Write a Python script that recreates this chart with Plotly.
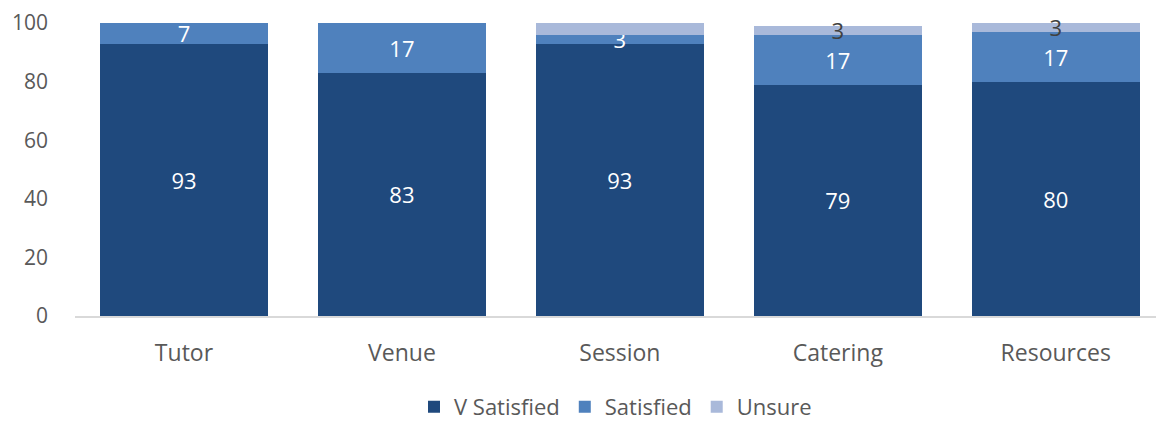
import plotly.graph_objects as go

categories = ["Tutor", "Venue", "Session", "Catering", "Resources"]
v_satisfied = [93, 83, 93, 79, 80]
satisfied = [7, 17, 3, 17, 17]
unsure = [0, 0, 4, 3, 3]
unsure_labels = ["", "", "", "3", "3"]

FONT = "Open Sans"

common = dict(textposition="inside", insidetextanchor="middle",
              textangle=0, constraintext="none", cliponaxis=False)

fig = go.Figure()
fig.add_trace(go.Bar(
    name="V Satisfied", x=categories, y=v_satisfied,
    marker=dict(color="#1F497D", line=dict(width=0)),
    text=[str(v) for v in v_satisfied],
    textfont=dict(color="white", size=22, family=FONT), **common,
))
fig.add_trace(go.Bar(
    name="Satisfied", x=categories, y=satisfied,
    marker=dict(color="#4F81BD", line=dict(width=0)),
    text=[str(v) for v in satisfied],
    textfont=dict(color="white", size=22, family=FONT), **common,
))
fig.add_trace(go.Bar(
    name="Unsure", x=categories, y=unsure,
    marker=dict(color="#A9B9DA", line=dict(width=0)),
    text=unsure_labels,
    textfont=dict(color="#404040", size=22, family=FONT), **common,
))

fig.update_layout(
    barmode="stack",
    bargap=0.23,
    width=1156, height=426,
    margin=dict(l=75, r=0, t=23, b=110),
    paper_bgcolor="white", plot_bgcolor="white",
    font=dict(family=FONT, color="#595959"),
    uniformtext=dict(mode="show", minsize=10),
    showlegend=True,
    legend=dict(
        orientation="h", x=0.5, xanchor="center",
        yref="container", y=0.045, yanchor="middle",
        font=dict(size=22, color="#595959", family=FONT),
        itemsizing="constant", traceorder="normal",
    ),
    xaxis=dict(
        range=[-0.5, 4.46], showgrid=False, showline=True,
        linecolor="#D9D9D9", linewidth=1.5,
        tickfont=dict(size=23, color="#595959", family=FONT),
        ticks="", ticklabelstandoff=16,
    ),
    yaxis=dict(
        range=[0, 100], tickvals=[0, 20, 40, 60, 80, 100],
        showgrid=False, zeroline=False, showline=False,
        tickfont=dict(size=21, color="#595959", family=FONT),
        ticks="", ticklabelstandoff=26,
    ),
)

fig.write_html("out.html")
